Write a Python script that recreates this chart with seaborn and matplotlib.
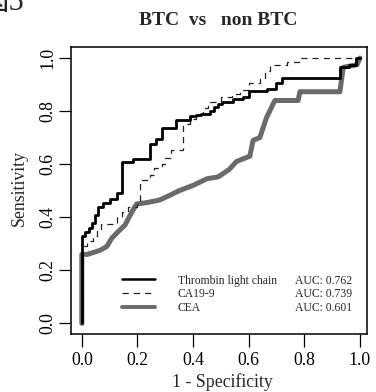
import matplotlib
matplotlib.use("Agg")
import matplotlib.pyplot as plt
from matplotlib.lines import Line2D
import seaborn as sns
import pandas as pd

# ---- data ----
thr_fpr = [0, 0, 0.012, 0.012, 0.025, 0.025, 0.035, 0.035, 0.047, 0.047, 0.059, 0.059,
           0.075, 0.075, 0.10, 0.10, 0.125, 0.125, 0.143, 0.143, 0.185, 0.185, 0.245, 0.245,
           0.265, 0.265, 0.29, 0.29, 0.34, 0.34, 0.39, 0.39, 0.41, 0.41, 0.43, 0.43, 0.46,
           0.46, 0.475, 0.475, 0.49, 0.49, 0.505, 0.505, 0.545, 0.545, 0.58, 0.58, 0.60, 0.60,
           0.665, 0.665, 0.70, 0.70, 0.72, 0.72, 0.93, 0.93, 0.96, 0.96, 0.985, 0.985, 1.0]
thr_tpr = [0, 0.33, 0.33, 0.345, 0.345, 0.36, 0.36, 0.38, 0.38, 0.41, 0.41, 0.44,
           0.44, 0.455, 0.455, 0.47, 0.47, 0.49, 0.49, 0.61, 0.61, 0.62, 0.62, 0.675,
           0.675, 0.695, 0.695, 0.735, 0.735, 0.765, 0.765, 0.78, 0.78, 0.785, 0.785, 0.79, 0.79,
           0.80, 0.80, 0.815, 0.815, 0.825, 0.825, 0.835, 0.835, 0.845, 0.845, 0.855, 0.855, 0.875,
           0.875, 0.885, 0.885, 0.905, 0.905, 0.925, 0.925, 0.965, 0.965, 0.975, 0.975, 1.0, 1.0]

ca_fpr = [0, 0, 0.02, 0.02, 0.04, 0.04, 0.053, 0.053, 0.07, 0.07, 0.125, 0.125, 0.145,
          0.145, 0.165, 0.165, 0.197, 0.197, 0.21, 0.21, 0.245, 0.245, 0.26, 0.26, 0.29,
          0.29, 0.30, 0.30, 0.32, 0.32, 0.365, 0.365, 0.39, 0.39, 0.41, 0.41, 0.435, 0.435,
          0.455, 0.455, 0.50, 0.50, 0.54, 0.54, 0.57, 0.57, 0.60, 0.60, 0.64, 0.64, 0.66,
          0.66, 0.676, 0.676, 0.736, 0.736, 0.78, 0.78, 1.0]
ca_tpr = [0, 0.29, 0.29, 0.31, 0.31, 0.33, 0.33, 0.35, 0.35, 0.375, 0.375, 0.40, 0.40,
          0.42, 0.42, 0.44, 0.44, 0.45, 0.45, 0.54, 0.54, 0.56, 0.56, 0.585, 0.585,
          0.60, 0.60, 0.625, 0.625, 0.655, 0.655, 0.75, 0.75, 0.77, 0.77, 0.79, 0.79, 0.81,
          0.81, 0.835, 0.835, 0.855, 0.855, 0.865, 0.865, 0.88, 0.88, 0.905, 0.905, 0.92, 0.92,
          0.95, 0.95, 0.975, 0.975, 0.985, 0.985, 1.0, 1.0]

cea_fpr = [0, 0, 0.02, 0.065, 0.09, 0.107, 0.13, 0.155, 0.18, 0.197, 0.233, 0.28, 0.317,
           0.35, 0.40, 0.45, 0.49, 0.53, 0.556, 0.604, 0.616, 0.64, 0.664, 0.694, 0.778,
           0.784, 0.928, 0.94, 0.99, 1.0]
cea_tpr = [0, 0.26, 0.26, 0.275, 0.29, 0.32, 0.345, 0.37, 0.42, 0.45, 0.455, 0.465, 0.483,
           0.50, 0.52, 0.545, 0.552, 0.58, 0.61, 0.63, 0.69, 0.70, 0.775, 0.84, 0.84,
           0.873, 0.873, 0.965, 0.975, 1.0]

markers = ["Thrombin light chain", "CA19-9", "CEA"]
auc_labels = ["AUC: 0.762", "AUC: 0.739", "AUC: 0.601"]
x_ticks = [0.0, 0.2, 0.4, 0.6, 0.8, 1.0]
y_ticks = [0.0, 0.2, 0.4, 0.6, 0.8, 1.0]

df = pd.concat([
    pd.DataFrame({"fpr": thr_fpr, "tpr": thr_tpr, "marker": markers[0], "order": range(len(thr_fpr))}),
    pd.DataFrame({"fpr": ca_fpr, "tpr": ca_tpr, "marker": markers[1], "order": range(len(ca_fpr))}),
    pd.DataFrame({"fpr": cea_fpr, "tpr": cea_tpr, "marker": markers[2], "order": range(len(cea_fpr))}),
], ignore_index=True)

sns.set_theme(style="ticks")
plt.rcParams["font.family"] = ["Liberation Serif", "Noto Sans CJK JP", "DejaVu Serif"]
plt.rcParams["axes.linewidth"] = 1.0

fig = plt.figure(figsize=(3.76, 3.92), dpi=100)
ax = fig.add_axes([0.188, 0.147, 0.787, 0.732])

styles = {
    "CEA": dict(color="#6a6a6a", lw=3.6, ls="-"),
    "CA19-9": dict(color="#222222", lw=0.9, ls=(0, (5, 4))),
    "Thrombin light chain": dict(color="black", lw=2.0, ls="-"),
}
for m in ["CEA", "CA19-9", "Thrombin light chain"]:
    st = styles[m]
    sub = df[df["marker"] == m]
    sns.lineplot(data=sub, x="fpr", y="tpr", sort=False, estimator=None, ax=ax,
                 color=st["color"], linewidth=st["lw"], linestyle=st["ls"], legend=False)

ax.set_xlim(-0.04, 1.024)
ax.set_ylim(-0.0415, 1.04)
ax.set_xticks(x_ticks)
ax.set_yticks(y_ticks)
ax.set_xticklabels([f"{v:.1f}" for v in x_ticks])
ax.set_yticklabels([f"{v:.1f}" for v in y_ticks])
ax.tick_params(axis="both", direction="out", length=9, width=0.9, colors="black",
               labelsize=12.8)
ax.tick_params(axis="x", pad=3.6)
ax.tick_params(axis="y", pad=1.5, labelrotation=90)
for lab in ax.get_yticklabels():
    lab.set_verticalalignment("center")
for s in ax.spines.values():
    s.set_visible(True)
    s.set_color("black")
    s.set_linewidth(1.1)

ax.set_title("BTC  vs   non BTC", fontsize=14, fontweight="bold", pad=16)
ax.set_xlabel("1 - Specificity", fontsize=12.8)
ax.set_ylabel("Sensitivity", fontsize=12.8)
ax.xaxis.set_label_coords(0.513, -0.135)
ax.yaxis.set_label_coords(-0.144, 0.51)

# legend: marker names
handles = [
    Line2D([], [], color="black", lw=1.8),
    Line2D([], [], color="#222222", lw=0.9, ls=(0, (5, 4))),
    Line2D([], [], color="#6a6a6a", lw=2.8),
]
leg1 = ax.legend(handles, markers, loc="center left", bbox_to_anchor=(0.172, 0.139),
                 frameon=False, fontsize=8.4, handlelength=2.9, handletextpad=1.9,
                 labelspacing=0.17, borderpad=0, borderaxespad=0)
ax.add_artist(leg1)
blank = [Line2D([], [], lw=0) for _ in auc_labels]
ax.legend(blank, auc_labels, loc="center left", bbox_to_anchor=(0.757, 0.139),
          frameon=False, fontsize=8.4, handlelength=0, handletextpad=0,
          labelspacing=0.17, borderpad=0, borderaxespad=0)

fig.text(-22 / 376, 1 - 10 / 392, "図5", fontsize=22, va="baseline", ha="left",
         family=["Liberation Serif", "Noto Sans CJK JP"])

fig.savefig("out.png", dpi=100)
